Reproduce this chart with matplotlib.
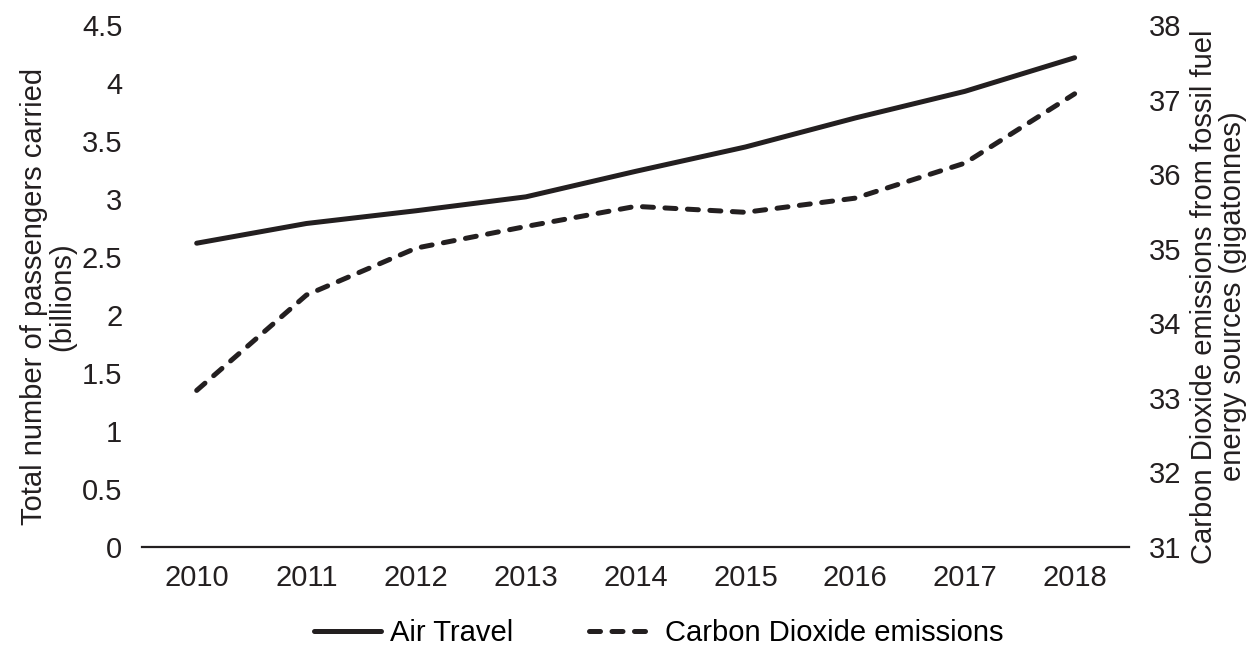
import matplotlib
matplotlib.use("Agg")
from matplotlib import pyplot as plt
from matplotlib.ticker import FuncFormatter, MultipleLocator

plt.rcParams['font.family'] = ['Liberation Sans', 'DejaVu Sans']

years = ['2010', '2011', '2012', '2013', '2014', '2015', '2016', '2017', '2018']
air_travel = [2.62, 2.79, 2.90, 3.02, 3.24, 3.45, 3.70, 3.93, 4.22]
co2 = [33.10, 34.38, 35.01, 35.30, 35.57, 35.49, 35.68, 36.15, 37.08]

ink = '#231f20'
fs = 21

fig = plt.figure(figsize=(12.55, 6.48), dpi=100)
ax = fig.add_axes([0.113, 0.156, 0.787, 0.805])
ax2 = ax.twinx()

x = list(range(len(years)))
l1, = ax.plot(x, air_travel, color=ink, lw=3.6, solid_capstyle='round',
              label='Air Travel')
l2, = ax2.plot(x, co2, color=ink, lw=3.6, dash_capstyle='round',
               linestyle=(0, (2.2, 2.3)), label='Carbon Dioxide emissions')

ax.set_xlim(-0.5, len(years) - 0.5)
ax.set_xticks(x)
ax.set_xticklabels(years)
ax.set_ylim(0, 4.5)
ax.yaxis.set_major_locator(MultipleLocator(0.5))
ax.yaxis.set_major_formatter(FuncFormatter(lambda v, p: '%g' % v))
ax2.set_ylim(31, 38)
ax2.yaxis.set_major_locator(MultipleLocator(1))

for a in (ax, ax2):
    for s in a.spines.values():
        s.set_visible(False)
ax.spines['bottom'].set_visible(True)
ax.spines['bottom'].set_color(ink)
ax.spines['bottom'].set_linewidth(1.6)

ax.tick_params(axis='x', length=0, pad=12, labelsize=fs, colors=ink)
ax.tick_params(axis='y', length=0, pad=14, labelsize=fs, colors=ink)
ax2.tick_params(axis='y', length=0, pad=14, labelsize=fs, colors=ink)

ax.set_ylabel('Total number of passengers carried\n(billions)', fontsize=fs,
              color=ink, linespacing=1.05)
ax.yaxis.set_label_coords(-0.066, 0.48)
ax2.set_ylabel('Carbon Dioxide emissions from fossil fuel\nenergy sources (gigatonnes)',
               fontsize=fs, color=ink, linespacing=1.05)
ax2.yaxis.set_label_coords(1.061, 0.48)

fig.legend(handles=[l1, l2], loc='center', ncol=2, frameon=False,
           fontsize=fs, handlelength=2.3, handletextpad=0.3, columnspacing=2.6,
           bbox_to_anchor=(0.525, 0.023))

fig.savefig('out.png', dpi=100)
